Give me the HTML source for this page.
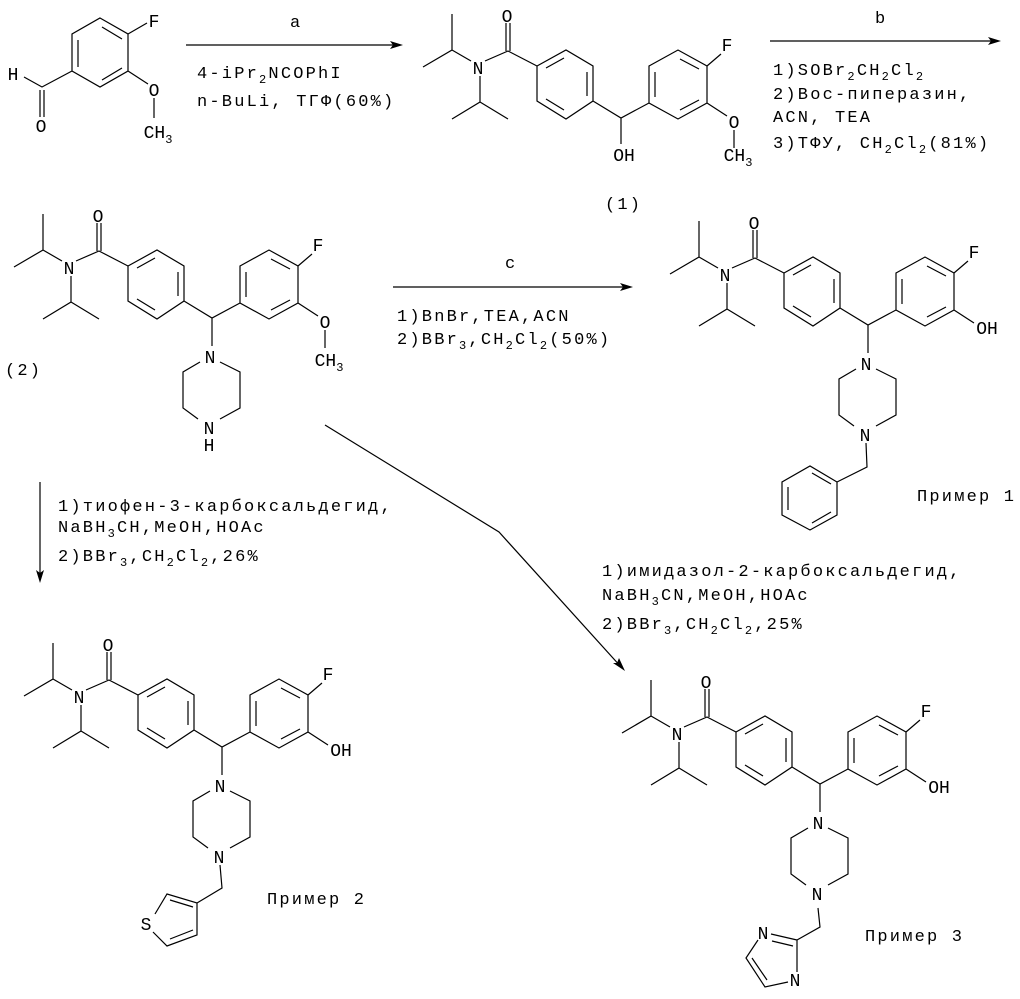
<!DOCTYPE html>
<html><head><meta charset="utf-8"><style>
html,body{margin:0;padding:0;background:#fff;}
svg{display:block;}
text{font-family:"Liberation Mono","DejaVu Sans Mono",monospace;fill:#000;}
.r{font-size:17px;letter-spacing:2.2px;}
.a{font-size:18px;text-anchor:middle;}
.s{font-size:12px;}
</style></head><body>
<svg width="1020" height="999" viewBox="0 0 1020 999" xmlns="http://www.w3.org/2000/svg">
<g stroke="#000" stroke-width="1.2" fill="none">
<path d="M100,18 L128,34 L128,71 L100,87 L72,71 L72,34 Z M78,40 L78,67 M102,27 L122,39 M102,80 L122,68 M128,34 L147,23 M72,71 L42,87 L24,77 M40,90 L40,117 M44,90 L44,117 M128,71 L148,84 M154,98 L154,118"/>
<path d="M186,45 L400,45 M770,41 L998,41 M393,287 L630,287 M40,482 L40,580 M325,425 L499,532 L622,668"/>
</g>
<g fill="#000">
<path d="M403,45 L390,41 L393,45 L390,49 Z"/>
<path d="M1001,41 L988,37 L991,41 L988,45 Z"/>
<path d="M633,287 L620,283 L623,287 L620,291 Z"/>
<path d="M40,583 L36,570 L40,573 L44,570 Z"/>
<path d="M625,671 L613,663 L617,663 L619,658 Z"/>
</g>
<text class="a" x="13" y="80">H</text>
<text class="a" x="41" y="132">O</text>
<text class="a" x="154" y="27">F</text>
<text class="a" x="154" y="96">O</text>
<text class="a" x="158" y="138">CH<tspan class="s" dy="5">3</tspan></text>

<text class="r" x="290" y="27">a</text>
<text class="r" x="197" y="78">4-iPr<tspan class="s" dy="5">2</tspan><tspan dy="-5">NCOPhI</tspan></text>
<text class="r" x="197" y="106">n-BuLi, ТГФ(60%)</text>

<text class="r" x="875" y="23">b</text>
<text class="r" x="773" y="75">1)SOBr<tspan class="s" dy="5">2</tspan><tspan dy="-5">CH</tspan><tspan class="s" dy="5">2</tspan><tspan dy="-5">Cl</tspan><tspan class="s" dy="5">2</tspan></text>
<text class="r" x="773" y="99">2)Boc-пиперазин,</text>
<text class="r" x="773" y="122">ACN, TEA</text>
<text class="r" x="773" y="148">3)ТФУ, CH<tspan class="s" dy="5">2</tspan><tspan dy="-5">Cl</tspan><tspan class="s" dy="5">2</tspan><tspan dy="-5">(81%)</tspan></text>

<text class="r" x="505" y="268">c</text>
<text class="r" x="397" y="321">1)BnBr,TEA,ACN</text>
<text class="r" x="397" y="344">2)BBr<tspan class="s" dy="5">3</tspan><tspan dy="-5">,CH</tspan><tspan class="s" dy="5">2</tspan><tspan dy="-5">Cl</tspan><tspan class="s" dy="5">2</tspan><tspan dy="-5">(50%)</tspan></text>

<text class="r" x="58" y="511">1)тиофен-3-карбоксальдегид,</text>
<text class="r" x="58" y="532">NaBH<tspan class="s" dy="5">3</tspan><tspan dy="-5">CH,MeOH,HOAc</tspan></text>
<text class="r" x="58" y="561">2)BBr<tspan class="s" dy="5">3</tspan><tspan dy="-5">,CH</tspan><tspan class="s" dy="5">2</tspan><tspan dy="-5">Cl</tspan><tspan class="s" dy="5">2</tspan><tspan dy="-5">,26%</tspan></text>

<text class="r" x="602" y="576">1)имидазол-2-карбоксальдегид,</text>
<text class="r" x="602" y="600">NaBH<tspan class="s" dy="5">3</tspan><tspan dy="-5">CN,MeOH,HOAc</tspan></text>
<text class="r" x="602" y="629">2)BBr<tspan class="s" dy="5">3</tspan><tspan dy="-5">,CH</tspan><tspan class="s" dy="5">2</tspan><tspan dy="-5">Cl</tspan><tspan class="s" dy="5">2</tspan><tspan dy="-5">,25%</tspan></text>

<g transform="translate(409,-200)">
<path stroke="#000" stroke-width="1.2" fill="none" d="M14,267 L43,250 L43,214 M43,250 L62,261 M76,261 L99,251 L128,266 M97,251 L97,223 M101,251 L101,223 M71,276 L71,302 L43,319 M71,302 L99,319 M128,266 L157,250 L184,266 L184,301 L157,319 L128,301 Z M137,268 L155,258 M178,272 L178,296 M155,310 L137,299 M184,301 L212,318 L240,303 M240,266 L269,250 L298,266 L298,303 L269,319 L240,303 Z M246,272 L246,297 M271,259 L290,269 M290,300 L271,310 M298,266 L312,254 M298,303 L318,316 M325,330 L325,348 M212,318 L212,344"/>
<text class="a" x="69" y="274">N</text><text class="a" x="98" y="222">O</text><text class="a" x="318" y="251">F</text>
<text class="a" x="325" y="328">O</text><text class="a" x="329" y="361">CH<tspan class="s" dy="5">3</tspan></text>
<text class="a" x="215" y="361">OH</text>
<text class="r" x="196" y="409">(1)</text>
</g>

<g>
<path stroke="#000" stroke-width="1.2" fill="none" d="M14,267 L43,250 L43,214 M43,250 L62,261 M76,261 L99,251 L128,266 M97,251 L97,223 M101,251 L101,223 M71,276 L71,302 L43,319 M71,302 L99,319 M128,266 L157,250 L184,266 L184,301 L157,319 L128,301 Z M137,268 L155,258 M178,272 L178,296 M155,310 L137,299 M184,301 L212,318 L240,303 M240,266 L269,250 L298,266 L298,303 L269,319 L240,303 Z M246,272 L246,297 M271,259 L290,269 M290,300 L271,310 M298,266 L312,254 M298,303 L318,316 M325,330 L325,348 M212,318 L212,346 M220,362 L240,372 L240,408 L220,419 M198,419 L183,408 L183,372 L200,362"/>
<text class="a" x="69" y="274">N</text><text class="a" x="98" y="222">O</text><text class="a" x="318" y="251">F</text>
<text class="a" x="325" y="328">O</text><text class="a" x="329" y="366">CH<tspan class="s" dy="5">3</tspan></text>
<text class="a" x="210" y="363">N</text><text class="a" x="209" y="434">N</text><text class="a" x="209" y="451">H</text>
<text class="r" x="5" y="375">(2)</text>
</g>

<g transform="translate(656,7)">
<path stroke="#000" stroke-width="1.2" fill="none" d="M14,267 L43,250 L43,214 M43,250 L62,261 M76,261 L99,251 L128,266 M97,251 L97,223 M101,251 L101,223 M71,276 L71,302 L43,319 M71,302 L99,319 M128,266 L157,250 L184,266 L184,301 L157,319 L128,301 Z M137,268 L155,258 M178,272 L178,296 M155,310 L137,299 M184,301 L212,318 L240,303 M240,266 L269,250 L298,266 L298,303 L269,319 L240,303 Z M246,272 L246,297 M271,259 L290,269 M290,300 L271,310 M298,266 L312,254 M298,303 L318,316 M212,318 L212,346 M220,362 L240,372 L240,408 L220,419 M198,419 L183,408 L183,372 L200,362 M210,436 L211,460 L181,475 M181,475 L154,459 L126,475 L126,508 L154,523 L181,508 Z M132,480 L132,503 M156,466 L175,477 M175,505 L156,516"/>
<text class="a" x="69" y="274">N</text><text class="a" x="98" y="222">O</text><text class="a" x="318" y="251">F</text>
<text class="a" x="331" y="327">OH</text>
<text class="a" x="210" y="363">N</text><text class="a" x="209" y="434">N</text>
<text class="r" x="261" y="494">Пример 1</text>
</g>

<g transform="translate(10,429)">
<path stroke="#000" stroke-width="1.2" fill="none" d="M14,267 L43,250 L43,214 M43,250 L62,261 M76,261 L99,251 L128,266 M97,251 L97,223 M101,251 L101,223 M71,276 L71,302 L43,319 M71,302 L99,319 M128,266 L157,250 L184,266 L184,301 L157,319 L128,301 Z M137,268 L155,258 M178,272 L178,296 M155,310 L137,299 M184,301 L212,318 L240,303 M240,266 L269,250 L298,266 L298,303 L269,319 L240,303 Z M246,272 L246,297 M271,259 L290,269 M290,300 L271,310 M298,266 L312,254 M298,303 L318,316 M212,318 L212,346 M220,362 L240,372 L240,408 L220,419 M198,419 L183,408 L183,372 L200,362"/>
<text class="a" x="69" y="274">N</text><text class="a" x="98" y="222">O</text><text class="a" x="318" y="251">F</text>
<text class="a" x="331" y="327">OH</text>
<text class="a" x="210" y="363">N</text><text class="a" x="209" y="434">N</text>
</g>
<path stroke="#000" stroke-width="1.2" fill="none" d="M220,865 L222,888 L197,903 L167,894 L155,914 M197,903 L197,935 L167,946 L153,932 M170,900 L193,907 M193,930 L170,939"/>
<text class="a" x="146" y="930">S</text>
<text class="r" x="267" y="904">Пример 2</text>

<g transform="translate(608,466)">
<path stroke="#000" stroke-width="1.2" fill="none" d="M14,267 L43,250 L43,214 M43,250 L62,261 M76,261 L99,251 L128,266 M97,251 L97,223 M101,251 L101,223 M71,276 L71,302 L43,319 M71,302 L99,319 M128,266 L157,250 L184,266 L184,301 L157,319 L128,301 Z M137,268 L155,258 M178,272 L178,296 M155,310 L137,299 M184,301 L212,318 L240,303 M240,266 L269,250 L298,266 L298,303 L269,319 L240,303 Z M246,272 L246,297 M271,259 L290,269 M290,300 L271,310 M298,266 L312,254 M298,303 L318,316 M212,318 L212,346 M220,362 L240,372 L240,408 L220,419 M198,419 L183,408 L183,372 L200,362"/>
<text class="a" x="69" y="274">N</text><text class="a" x="98" y="222">O</text><text class="a" x="318" y="251">F</text>
<text class="a" x="331" y="327">OH</text>
<text class="a" x="210" y="363">N</text><text class="a" x="209" y="434">N</text>
</g>
<path stroke="#000" stroke-width="1.2" fill="none" d="M818,908 L820,927 L797,940 M797,940 L771,934 M793,946 L772,941 M758,940 L746,958 L765,987 L788,982 M752,958 L767,980 M797,972 L797,940"/>
<text class="a" x="763" y="939">N</text>
<text class="a" x="795" y="986">N</text>
<text class="r" x="865" y="941">Пример 3</text>
</svg>
</body></html>
